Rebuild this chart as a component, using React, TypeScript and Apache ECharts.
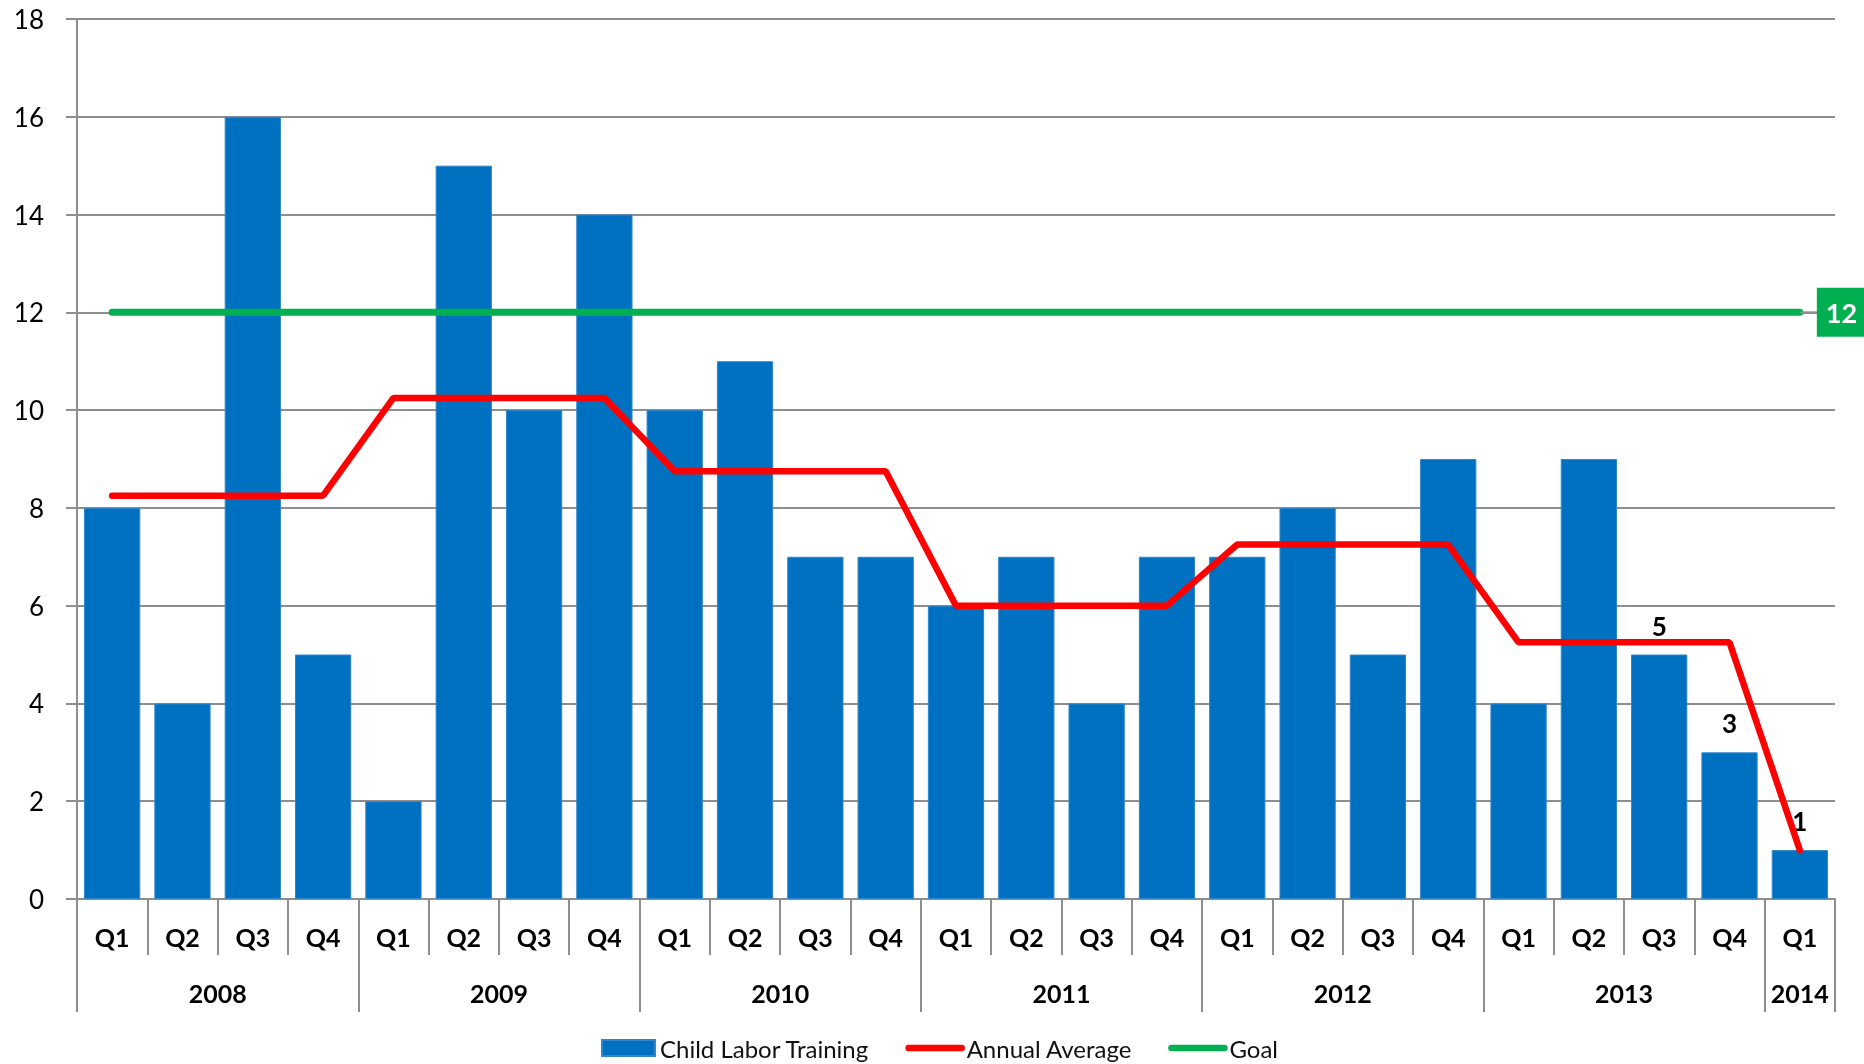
import React, { useEffect, useRef } from 'react';
import * as echarts from 'echarts';

const quarters = [
  'Q1', 'Q2', 'Q3', 'Q4',
  'Q1', 'Q2', 'Q3', 'Q4',
  'Q1', 'Q2', 'Q3', 'Q4',
  'Q1', 'Q2', 'Q3', 'Q4',
  'Q1', 'Q2', 'Q3', 'Q4',
  'Q1', 'Q2', 'Q3', 'Q4',
  'Q1',
];
const years = ['2008', '2009', '2010', '2011', '2012', '2013', '2014'];
const quartersPerYear = [4, 4, 4, 4, 4, 4, 1];

const childLaborTraining = [
  8, 4, 16, 5,
  2, 15, 10, 14,
  10, 11, 7, 7,
  6, 7, 4, 7,
  7, 8, 5, 9,
  4, 9, 5, 3,
  1,
];
const annualAverage = [
  8.25, 8.25, 8.25, 8.25,
  10.25, 10.25, 10.25, 10.25,
  8.75, 8.75, 8.75, 8.75,
  6, 6, 6, 6,
  7.25, 7.25, 7.25, 7.25,
  5.25, 5.25, 5.25, 5.25,
  1,
];
const goal = [
  12, 12, 12, 12,
  12, 12, 12, 12,
  12, 12, 12, 12,
  12, 12, 12, 12,
  12, 12, 12, 12,
  12, 12, 12, 12,
  12,
];
const labeledBarIndices = [22, 23, 24];
const yMin = 0;
const yMax = 18;
const yInterval = 2;

const FONT = 'Lato, "Open Sans", sans-serif';
const GRID_GRAY = '#8e8e8e';

export default function App() {
  const ref = useRef<HTMLDivElement>(null);

  useEffect(() => {
    document.body.style.margin = '0';
    if (!ref.current) return;
    const chart = echarts.init(ref.current, undefined, { renderer: 'svg' });

    // Year axis built on half-quarter slots
    const totalQuarters = quartersPerYear.reduce((a, b) => a + b, 0);
    const yearSlots: string[] = [];
    for (let i = 0; i <= totalQuarters * 2; i++) yearSlots.push('_' + i);
    const boundaries = new Set<number>();
    let start = 0;
    years.forEach((y, i) => {
      boundaries.add(start * 2);
      yearSlots[start * 2 + quartersPerYear[i]] = y;
      start += quartersPerYear[i];
    });
    boundaries.add(start * 2);

    const barData = childLaborTraining.map((v, i) =>
      labeledBarIndices.includes(i) ? { value: v, label: { show: true } } : v
    );

    chart.setOption({
      animation: false,
      textStyle: { fontFamily: FONT },
      grid: { left: 77, right: 29, top: 19, bottom: 165, containLabel: false },
      legend: {
        left: 601,
        top: 1035,
        padding: 0,
        itemWidth: 53,
        itemHeight: 16,
        itemGap: 36,
        textStyle: { fontSize: 24, lineHeight: 26, color: '#111', fontFamily: FONT },
        lineStyle: { width: 6.5, cap: 'round' },
        data: [
          { name: 'Child Labor Training', icon: 'rect' },
          { name: 'Annual Average', itemStyle: { opacity: 0 } },
          { name: 'Goal', itemStyle: { opacity: 0 } },
        ],
      },
      xAxis: [
        {
          type: 'category',
          data: quarters,
          position: 'bottom',
          axisLine: { show: true, lineStyle: { color: GRID_GRAY, width: 2 } },
          axisTick: { show: true, interval: 0, length: 56, lineStyle: { color: GRID_GRAY, width: 2 } },
          axisLabel: { interval: 0, fontSize: 25, fontWeight: 'bold', color: '#000', margin: 25, fontFamily: FONT },
        },
        {
          type: 'category',
          data: yearSlots,
          position: 'bottom',
          boundaryGap: false,
          axisLine: { show: false },
          axisTick: {
            show: true,
            length: 113,
            interval: (i: number) => boundaries.has(i),
            lineStyle: { color: GRID_GRAY, width: 2 },
          },
          axisLabel: {
            interval: (_i: number, v: string) => !String(v).startsWith('_'),
            formatter: (v: string) => (String(v).startsWith('_') ? '' : v),
            fontSize: 25,
            fontWeight: 'bold',
            color: '#000',
            margin: 81,
            fontFamily: FONT,
          },
          splitLine: { show: false },
        },
      ],
      yAxis: {
        type: 'value',
        min: yMin,
        max: yMax,
        interval: yInterval,
        axisLine: { show: true, lineStyle: { color: GRID_GRAY, width: 2 } },
        axisTick: { show: true, length: 11, lineStyle: { color: GRID_GRAY, width: 2 } },
        axisLabel: { fontSize: 26, color: '#000', margin: 33, fontFamily: FONT },
        splitLine: { show: true, lineStyle: { color: GRID_GRAY, width: 2 } },
      },
      series: [
        {
          name: 'Child Labor Training',
          type: 'bar',
          xAxisIndex: 0,
          data: barData,
          barCategoryGap: '20%',
          itemStyle: { color: '#0070C0', borderColor: '#2f86cc', borderWidth: 1 },
          label: {
            show: false,
            position: 'top',
            distance: 16,
            fontSize: 26,
            fontWeight: 'bold',
            color: '#000',
            fontFamily: FONT,
          },
          z: 2,
        },
        {
          name: 'Annual Average',
          type: 'line',
          xAxisIndex: 0,
          data: annualAverage,
          symbol: 'none',
          lineStyle: { color: '#FF0000', width: 6.5, cap: 'round' },
          itemStyle: { color: '#FF0000' },
          z: 3,
        },
        {
          name: 'Goal',
          type: 'line',
          xAxisIndex: 0,
          data: goal,
          symbol: 'none',
          lineStyle: { color: '#00B050', width: 7, cap: 'round' },
          itemStyle: { color: '#00B050' },
          endLabel: {
            show: true,
            distance: 0,
            formatter: (p: any) => `{gap| }{box|${p.value}}`,
            rich: {
              gap: { width: 17, height: 2, backgroundColor: GRID_GRAY },
              box: {
                backgroundColor: '#00B050',
                color: '#fff',
                fontWeight: 'bold',
                fontSize: 27,
                fontFamily: FONT,
                padding: [11, 9, 11, 9],
                lineHeight: 27,
              },
            },
          },
          z: 4,
        },
      ],
    });

    return () => {
      chart.dispose();
    };
  }, []);

  return (
    <div
      ref={ref}
      style={{ position: 'fixed', left: 0, top: 0, width: 1864, height: 1064 }}
    />
  );
}
